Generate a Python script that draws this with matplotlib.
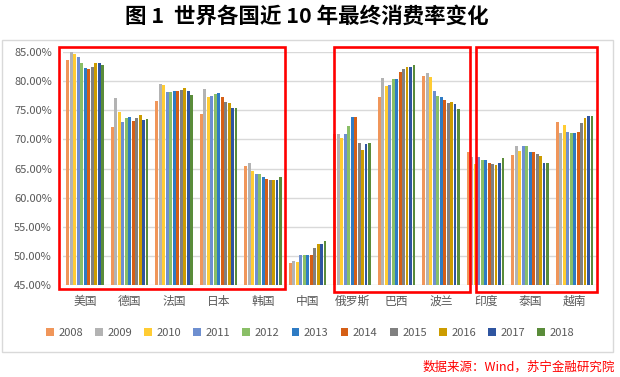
import matplotlib.pyplot as plt
from matplotlib.patches import Rectangle
import numpy as np

plt.rcParams['font.family'] = ['Noto Sans CJK SC', 'DejaVu Sans']

countries = ['美国', '德国', '法国', '日本', '韩国', '中国', '俄罗斯', '巴西', '波兰', '印度', '泰国', '越南']
years = ['2008', '2009', '2010', '2011', '2012', '2013', '2014', '2015', '2016', '2017', '2018']

# final consumption rate (%) by country, one list per year
y2008 = [83.7, 72.1, 76.6, 74.4, 65.4, 48.7, 71.0, 77.3, 80.9, 67.8, 67.3, 73.0]
y2009 = [85.0, 77.1, 79.5, 78.7, 65.9, 49.2, 70.9, 80.6, 81.4, 67.0, 68.8, 71.1]
y2010 = [84.7, 74.7, 79.4, 77.3, 64.5, 48.9, 70.2, 79.2, 80.7, 65.8, 68.0, 72.5]
y2011 = [84.2, 73.0, 78.2, 77.5, 64.0, 50.1, 70.9, 79.4, 78.3, 67.0, 68.8, 71.3]
y2012 = [83.2, 73.7, 78.2, 77.8, 64.0, 50.2, 72.3, 80.4, 77.5, 66.4, 68.8, 71.1]
y2013 = [82.3, 73.8, 78.3, 78.0, 63.5, 50.1, 73.8, 80.4, 77.3, 66.4, 67.8, 71.1]
y2014 = [82.1, 73.2, 78.3, 77.3, 63.2, 50.2, 73.8, 81.6, 76.8, 65.9, 67.8, 71.3]
y2015 = [82.5, 73.7, 78.5, 76.4, 63.0, 51.3, 69.4, 82.1, 76.3, 65.8, 67.5, 72.8]
y2016 = [83.2, 74.2, 78.8, 76.3, 63.0, 52.0, 68.2, 82.5, 76.4, 65.6, 67.1, 73.7]
y2017 = [83.2, 73.3, 78.3, 75.4, 63.0, 52.0, 69.2, 82.5, 76.1, 65.9, 65.9, 74.0]
y2018 = [82.8, 73.5, 77.6, 75.4, 63.5, 52.6, 69.4, 82.8, 75.2, 66.8, 65.9, 74.0]
series = [y2008, y2009, y2010, y2011, y2012, y2013, y2014, y2015, y2016, y2017, y2018]

colors = ['#F0965A', '#B3B3B3', '#FFCC33', '#6E8FD0', '#8ABF67', '#2E7BC4',
          '#D55F16', '#808080', '#CC9C00', '#2F55A0', '#5A8C3A']

fig = plt.figure(figsize=(6.2, 3.77), dpi=100)
ax = fig.add_axes([0.1016, 0.244, 0.8612, 0.618])

x = np.arange(len(countries))
slot = 0.86 / len(years)
for i, vals in enumerate(series):
    ax.bar(x - 0.43 + slot * (i + 0.5), vals, width=slot * 0.78,
           color=colors[i], label=years[i], zorder=2)

ax.set_xlim(-0.5, len(countries) - 0.5)
ax.set_ylim(45, 85)
ax.set_yticks(np.arange(45, 86, 5))
ax.set_yticklabels(['%.2f%%' % v for v in np.arange(45, 86, 5)])
ax.set_xticks(x)
ax.set_xticklabels(countries)
ax.tick_params(length=0, colors='#595959', labelsize=8)
ax.tick_params(axis='y', pad=8)
ax.tick_params(axis='x', labelsize=8.5, pad=7)
ax.grid(axis='y', color='#D9D9D9', linewidth=1, zorder=0)
for s in ax.spines.values():
    s.set_visible(False)

# red highlight boxes
for x0, x1, y0 in [(-0.58, 4.49, 44.3), (5.6, 8.65, 43.8), (8.79, 11.5, 43.8)]:
    ax.add_patch(Rectangle((x0, y0), x1 - x0, 85.9 - y0, fill=False,
                           edgecolor='red', linewidth=1.9, clip_on=False, zorder=5))

# outer chart frame
fig.patches.append(Rectangle((2 / 620, 25 / 377), 611 / 620, 312 / 377, fill=False,
                             edgecolor='#D9D9D9', linewidth=1, transform=fig.transFigure))

fig.legend(loc='center', bbox_to_anchor=(0.5, 0.117), ncol=11, frameon=False,
           fontsize=8, handlelength=0.7, handleheight=0.7, handletextpad=0.4,
           columnspacing=1.1, labelcolor='#595959')

fig.text(0.495, 0.958, '图 1  世界各国近 10 年最终消费率变化', ha='center', va='center',
         fontsize=15.5, fontweight='bold')
fig.text(0.992, 0.027, '数据来源：Wind，苏宁金融研究院', ha='right', va='center',
         fontsize=9, color='red', style='italic')

fig.savefig('out.png', dpi=100)
